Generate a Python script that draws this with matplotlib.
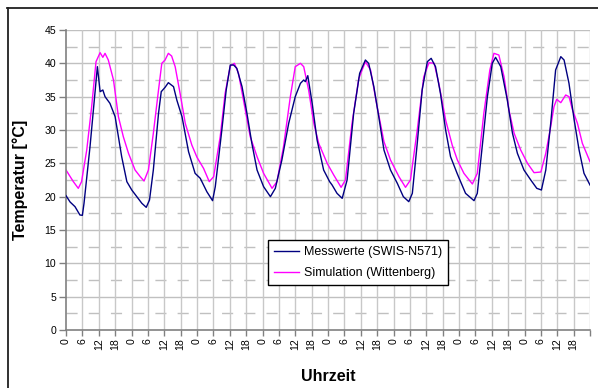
import matplotlib
matplotlib.use("Agg")
import matplotlib.pyplot as plt
from matplotlib.lines import Line2D
import numpy as np

# ---- data ----
meas_hours = [0, 1.5, 3.3, 5.1, 6, 6.6, 8.8, 11.5, 12.5, 13.5, 14.3, 16.1, 18, 20.4, 22.3, 24.1,
              27.8, 29.4, 30.6, 32, 33.9, 34.9, 36.3, 37.5, 39.4, 40.6, 42.5, 44.9, 47.3, 49.2,
              51.6, 53.7, 54.7, 57.1, 58.7, 60.2, 61.4, 62.6, 64.5, 66.3, 68.1, 70, 72.4, 74.9,
              76.7, 79.1, 81.6, 84, 85.9, 87.1, 87.7, 88.6, 90.2, 92, 94.4, 96.6, 97.5, 99.3,
              101.2, 103, 105.4, 107.6, 109.7, 110.9, 112.8, 114.6, 116.5, 118.9, 121.4, 123.6,
              125.6, 126.9, 128.7, 130.5, 132.4, 133.8, 135.4, 137.2, 139.1, 140.9, 143.4, 146.4,
              149.5, 150.7, 152.5, 154.4, 156.2, 157.4, 159.3, 161.7, 163.6, 165.4, 167.8, 170.3,
              172.5, 174.2, 175.8, 177.6, 179.4, 181.3, 182.5, 184.3, 186.2, 188, 189.8, 192]
meas_temp = [20.15, 19.2, 18.5, 17.25, 17.2, 19.0, 27.5, 39.5, 35.75, 36.0, 35.0, 34.0, 32.0, 26.0, 22.25, 21.0,
             19.0, 18.4, 19.5, 24, 32.5, 35.75, 36.4, 37.1, 36.5, 34.5, 32, 26.75, 23.5, 22.75,
             20.75, 19.4, 21.5, 30, 36, 39.75, 39.75, 39.25, 36.5, 32.5, 28, 24, 21.5, 20,
             21.25, 25.5, 31, 35, 37, 37.5, 37.25, 38.15, 34, 28.5, 24, 22.25, 21.75, 20.5,
             19.75, 22.5, 32.5, 38.5, 40.5, 40, 36.5, 32, 27, 24, 22, 20,
             19.25, 20.5, 28, 36, 40.25, 40.75, 39.5, 35.5, 30, 26, 23.4, 20.5,
             19.4, 20.5, 27.5, 35, 40, 40.9, 39.5, 34.5, 29.5, 26.5, 24, 22.5,
             21.25, 21, 24, 31, 39, 41, 40.5, 37, 31.5, 27, 23.5, 21.75]

sim_hours = [0, 2.7, 4.5, 5.7, 7.6, 9.4, 11, 12.5, 13.5, 14.3, 15.5, 17.4, 19.2, 21, 22.9, 25.3,
             27.2, 28.6, 30.2, 32, 33.9, 35.1, 36.3, 37.5, 38.7, 40, 41.8, 43.7, 46.1, 48, 50.4,
             52.5, 54.1, 56.5, 58.3, 60.2, 61.7, 63.2, 65.7, 67.5, 70, 72.4, 75.5, 77.3, 79.7,
             82.2, 84, 85.9, 87.1, 88.9, 90.8, 92.6, 95.7, 98.1, 100.8, 102.4, 104.8, 107.3,
             109.7, 111.6, 114, 116.5, 118.9, 122, 124.4, 126.2, 128.7, 131.1, 133, 134.9, 136.6,
             139.1, 141.5, 143.4, 145.8, 148.9, 150.7, 153.1, 155.3, 156.8, 158.6, 160.5, 162.3,
             164.2, 166.6, 169.1, 171.5, 174, 175.8, 177.6, 178.8, 179.8, 181.3, 183.1, 184.3,
             185.6, 187.4, 189.2, 192]
sim_temp = [24, 22.25, 21.25, 22.25, 27, 33.5, 40.25, 41.6, 40.9, 41.5, 40.5, 37.5, 32, 29, 26.5, 24,
            23, 22.35, 24, 29.5, 36, 40, 40.5, 41.5, 41.1, 39.5, 35.5, 31, 27.75, 25.9, 24.25,
            22.25, 23, 29, 35.5, 39.6, 40, 38.5, 33, 29, 26, 23.5, 21.25, 22.25, 27.5,
            35, 39.5, 40, 39.5, 36, 31, 28, 25, 23.25, 21.4, 22.5, 31, 37.75,
            40.25, 39, 33.5, 28.25, 25.5, 23, 21.4, 22.5, 30, 38, 40.1, 40, 37,
            31.5, 27.75, 25.5, 23.5, 21.9, 23.5, 32.5, 39, 41.5, 41.25, 38, 33,
            29.5, 27, 25, 23.6, 23.7, 26.5, 30.5, 33.5, 34.6, 34.1, 35.25, 35.0,
            33, 31, 28, 25.25]

n_days = 8
tick_hours = [0, 6, 12, 18]
y_major = [0, 5, 10, 15, 20, 25, 30, 35, 40, 45]
y_minor = [2.5, 7.5, 12.5, 17.5, 22.5, 27.5, 32.5, 37.5, 42.5]

labels = ["Messwerte (SWIS-N571)", "Simulation (Wittenberg)"]
colors = ["#000080", "#FF00FF"]

# ---- figure ----
plt.rcParams["font.family"] = ["Liberation Sans", "DejaVu Sans"]
fig = plt.figure(figsize=(5.98, 3.88), dpi=100)
ax = fig.add_axes([66 / 598, 58 / 388, 524 / 598, 300 / 388])

total_h = 24 * n_days
ax.set_xlim(0, total_h)
ax.set_ylim(0, 45)

# grid
for v in y_major[1:]:
    ax.axhline(v, color="#c0c0c0", lw=1.0, zorder=0)
for v in y_minor:
    ax.axhline(v, color="#c0c0c0", lw=1.0, ls=(0, (8, 8)), zorder=0)
xt = [d * 24 + h for d in range(n_days) for h in tick_hours] + [total_h]
for v in xt[1:]:
    ax.axvline(v, color="#c8c8c8", lw=1.0, zorder=0)

ax.plot(meas_hours, meas_temp, color=colors[0], lw=1.0, label=labels[0], zorder=3)
ax.plot(sim_hours, sim_temp, color=colors[1], lw=1.0, label=labels[1], zorder=2)

ax.set_yticks(y_major)
ax.set_yticklabels([str(v) for v in y_major], fontsize=7.6)
ax.set_xticks(xt)
xlabels = [str(h) for d in range(n_days) for h in tick_hours] + [""]
ax.set_xticklabels(xlabels, rotation=90, fontsize=7.6)

for s in ["top", "right"]:
    ax.spines[s].set_visible(False)
for s in ["left", "bottom"]:
    ax.spines[s].set_color("#808080")
    ax.spines[s].set_linewidth(1.2)
ax.tick_params(axis="y", direction="out", length=5, width=1, color="#808080", pad=2)
ax.tick_params(axis="x", direction="out", length=4, width=1, color="#808080", pad=2)

ax.set_ylabel("Temperatur [°C]", fontsize=11.5, fontweight="bold")
ax.yaxis.set_label_coords(-38 / 524, 0.5)
ax.set_xlabel("Uhrzeit", fontsize=11.5, fontweight="bold")
ax.xaxis.set_label_coords(0.5, -39 / 300)

leg = ax.legend(loc="upper left", bbox_to_anchor=(202 / 524, 0.30), fontsize=9.0,
                frameon=True, fancybox=False, edgecolor="black", facecolor="white",
                framealpha=1, handlelength=2.0, handletextpad=0.35, borderpad=0.5,
                labelspacing=0.7, borderaxespad=0)
leg.get_frame().set_linewidth(1.0)

# outer frame (left and top edges visible)
fig.add_artist(Line2D([7.5 / 598, 7.5 / 598], [0, 1 - 8 / 388], transform=fig.transFigure,
                      color="#202020", lw=1.3))
fig.add_artist(Line2D([7 / 598, 1], [1 - 8 / 388, 1 - 8 / 388], transform=fig.transFigure,
                      color="#202020", lw=1.3))

fig.savefig("out.png", dpi=100)
